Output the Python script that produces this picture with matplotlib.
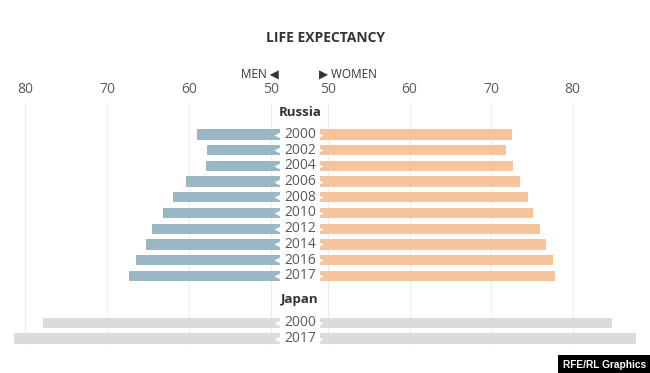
import matplotlib
matplotlib.use("Agg")
import matplotlib.pyplot as plt

plt.rcParams['font.family'] = ['Open Sans', 'DejaVu Sans']

# data
russia_years = ["2000", "2002", "2004", "2006", "2008", "2010", "2012", "2014", "2016", "2017"]
russia_men = [59.0, 57.8, 57.9, 60.4, 61.9, 63.2, 64.5, 65.3, 66.5, 67.3]
russia_women = [72.6, 71.9, 72.7, 73.6, 74.6, 75.2, 76.0, 76.7, 77.6, 77.9]
japan_years = ["2000", "2017"]
japan_men = [77.8, 81.3]
japan_women = [84.9, 87.8]
ticks = [50, 60, 70, 80]

men_col = "#9bb6c5"
women_col = "#f6c49c"
japan_col = "#d9dbdd"
grid_col = "#ececec"
text_col = "#5a5a5a"

W, H = 650, 373
fig = plt.figure(figsize=(W / 100, H / 100), dpi=100)

top_px, bot_px = 103, 345
row0_px, row_step = 134.5, 15.7
ylim = ((bot_px - row0_px) / row_step, (top_px - row0_px) / row_step)

def px_axes(x0, x1):
    return fig.add_axes([x0 / W, (H - bot_px) / H, (x1 - x0) / W, (bot_px - top_px) / H])

# left panel (men), 50 at px 271, 10 years = 82 px
ax_l = px_axes(0, 282)
ax_l.set_xlim(50 + 271 / 8.2, 50 - 11 / 8.2)
# right panel (women), 50 at px 328, 10 years = 81.5 px
ax_r = px_axes(318, 650)
ax_r.set_xlim(50 - 10 / 8.15, 50 + 322 / 8.15)

base_l = 50 - 9 / 8.2
base_r = 50 - 8 / 8.15

rus_rows = list(range(len(russia_years)))
jap_rows = [12, 13]
bar_h = 0.66

for ax in (ax_l, ax_r):
    ax.set_ylim(*ylim)
    ax.set_xticks(ticks)
    ax.xaxis.tick_top()
    ax.tick_params(axis='x', length=0, pad=4, labelsize=10, labelcolor=text_col)
    ax.set_yticks([])
    for s in ax.spines.values():
        s.set_visible(False)
    for t in ticks:
        ax.axvline(t, color=grid_col, lw=0.8, zorder=0)
    ax.patch.set_alpha(0)

ax_l.barh(rus_rows, [v - base_l for v in russia_men], left=base_l, height=bar_h, color=men_col, zorder=2)
ax_l.barh(jap_rows, [v - base_l for v in japan_men], left=base_l, height=bar_h, color=japan_col, zorder=2)
ax_r.barh(rus_rows, [v - base_r for v in russia_women], left=base_r, height=bar_h, color=women_col, zorder=2)
ax_r.barh(jap_rows, [v - base_r for v in japan_women], left=base_r, height=bar_h, color=japan_col, zorder=2)

# little notches at the inner ends of the bars
all_rows = rus_rows + jap_rows
ax_l.plot([base_l + 0.25] * len(all_rows), all_rows, ls='none', marker='<', ms=6,
          color='white', mec='none', zorder=3, clip_on=False)
ax_r.plot([base_r - 0.1] * len(all_rows), all_rows, ls='none', marker='>', ms=6,
          color='white', mec='none', zorder=3, clip_on=False)

# year labels in the middle
def fy(row):
    return (H - (row0_px + row * row_step)) / H

for r, y in zip(rus_rows, russia_years):
    fig.text(300 / W, fy(r), y, ha='center', va='center', fontsize=10, color=text_col)
for r, y in zip(jap_rows, japan_years):
    fig.text(300 / W, fy(r), y, ha='center', va='center', fontsize=10, color=text_col)

fig.text(300 / W, (H - 112) / H, "Russia", ha='center', va='center', fontsize=9.5,
         fontweight='bold', color='#333333')
fig.text(300 / W, (H - 300) / H, "Japan", ha='center', va='center', fontsize=9.5,
         fontweight='bold', color='#333333')

fig.text(325 / W, (H - 38) / H, "LIFE EXPECTANCY", ha='center', va='center', fontsize=10,
         fontweight='bold', color='#333333')
fig.text(279 / W, (H - 74) / H, "MEN \u25C0", ha='right', va='center', fontsize=8.5, color='#333333')
fig.text(319 / W, (H - 74) / H, "\u25B6 WOMEN", ha='left', va='center', fontsize=8.5, color='#333333')

fig.text(646 / W, (H - 365) / H, "RFE/RL Graphics", ha='right', va='center', fontsize=7.3,
         fontweight='bold', color='white', family='Liberation Sans',
         bbox=dict(boxstyle='square,pad=0.45', fc='black', ec='none'))

fig.savefig("out.png", dpi=100, facecolor='white')
